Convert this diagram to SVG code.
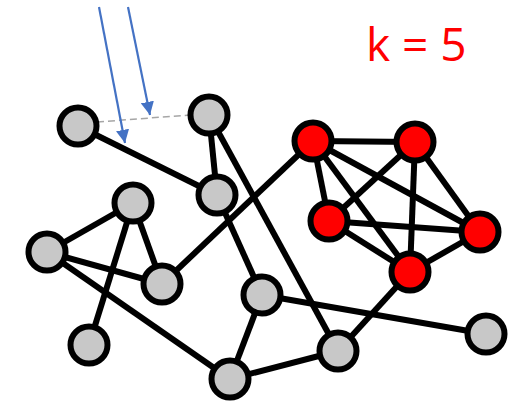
<svg xmlns="http://www.w3.org/2000/svg" width="516" height="402" viewBox="0 0 516 402">
<defs>
<style>
.e{stroke:#000;stroke-width:6;fill:none}
.n{fill:#c8c8c8;stroke:#000;stroke-width:6}
.r{fill:#ff0000;stroke:#000;stroke-width:6}
.a{stroke:#4472c4;stroke-width:2.2;fill:none}
</style>
<marker id="ah" viewBox="0 0 10 10" refX="10" refY="5" markerWidth="6" markerHeight="6" orient="auto" markerUnits="strokeWidth">
<path d="M0,0 L10,5 L0,10 Z" fill="#4472c4"/>
</marker>
</defs>
<rect width="516" height="402" fill="#fff"/>
<g id="connectors">
<line class="e" x1="78" y1="126" x2="217" y2="195"/>
<line class="e" x1="209" y1="115" x2="217" y2="195"/>
<line class="e" x1="209" y1="115" x2="338" y2="351"/>
<line class="e" x1="217" y1="195" x2="262" y2="295"/>
<line class="e" x1="162" y1="284" x2="313" y2="141"/>
<line class="e" x1="133" y1="203" x2="47" y2="252"/>
<line class="e" x1="133" y1="203" x2="162" y2="284"/>
<line class="e" x1="133" y1="203" x2="89" y2="345"/>
<line class="e" x1="47" y1="252" x2="162" y2="284"/>
<line class="e" x1="47" y1="252" x2="230" y2="379"/>
<line class="e" x1="262" y1="295" x2="230" y2="379"/>
<line class="e" x1="230" y1="379" x2="338" y2="351"/>
<line class="e" x1="262" y1="295" x2="486" y2="334"/>
<line class="e" x1="338" y1="351" x2="410" y2="272"/>
<line class="e" x1="313" y1="141" x2="415" y2="142"/>
<line class="e" x1="313" y1="141" x2="329" y2="221"/>
<line class="e" x1="313" y1="141" x2="480" y2="232"/>
<line class="e" x1="313" y1="141" x2="410" y2="272"/>
<line class="e" x1="415" y1="142" x2="329" y2="221"/>
<line class="e" x1="415" y1="142" x2="410" y2="272"/>
<line class="e" x1="415" y1="142" x2="480" y2="232"/>
<line class="e" x1="329" y1="221" x2="480" y2="232"/>
<line class="e" x1="329" y1="221" x2="410" y2="272"/>
<line class="e" x1="480" y1="232" x2="410" y2="272"/>
<line x1="97" y1="122" x2="190" y2="115" stroke="#a6a6a6" stroke-width="1.5" stroke-dasharray="7,4"/>
<line class="a" x1="99" y1="7" x2="125" y2="143" marker-end="url(#ah)"/>
<line class="a" x1="128" y1="7" x2="150" y2="115" marker-end="url(#ah)"/>
</g>
<g id="nA"><circle class="n" cx="78" cy="126" r="18.5"/></g>
<g id="nB"><circle class="n" cx="209" cy="115" r="18.5"/></g>
<g id="nC"><circle class="n" cx="217" cy="195" r="18.5"/></g>
<g id="nD"><circle class="n" cx="133" cy="203" r="18.5"/></g>
<g id="nE"><circle class="n" cx="47" cy="252" r="18.5"/></g>
<g id="nF"><circle class="n" cx="162" cy="284" r="18.5"/></g>
<g id="nG"><circle class="n" cx="89" cy="345" r="18.5"/></g>
<g id="nI"><circle class="n" cx="262" cy="295" r="18.5"/></g>
<g id="nJ"><circle class="n" cx="230" cy="379" r="18.5"/></g>
<g id="nK"><circle class="n" cx="338" cy="351" r="18.5"/></g>
<g id="nL"><circle class="n" cx="486" cy="334" r="18.5"/></g>
<g id="r1"><circle class="r" cx="313" cy="141" r="18.5"/></g>
<g id="r2"><circle class="r" cx="415" cy="142" r="18.5"/></g>
<g id="r3"><circle class="r" cx="329" cy="221" r="18.5"/></g>
<g id="r4"><circle class="r" cx="480" cy="232" r="18.5"/></g>
<g id="r5"><circle class="r" cx="410" cy="272" r="18.5"/></g>
<text x="366" y="61" font-family="'Open Sans','Liberation Sans',sans-serif" font-size="46" fill="#ff0000">k = 5</text>
</svg>
